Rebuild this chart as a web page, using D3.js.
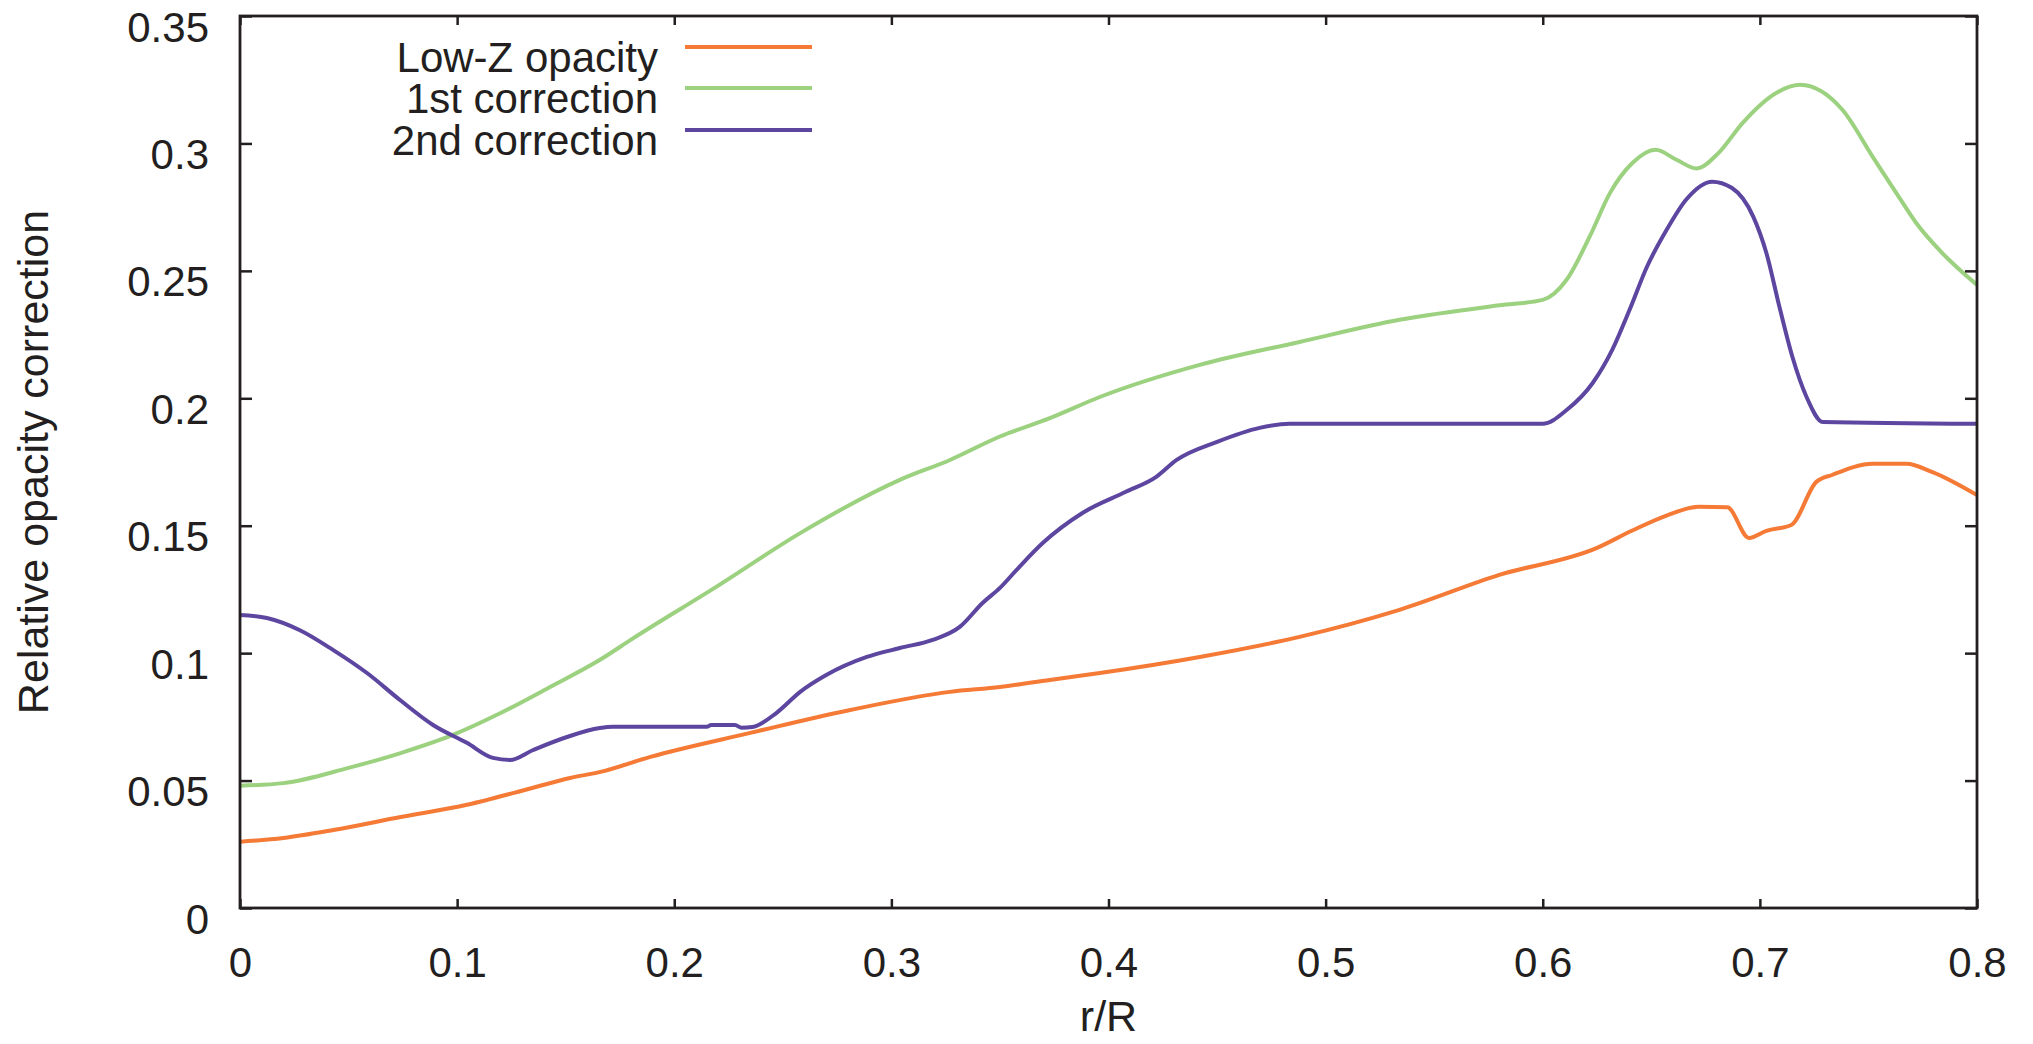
<!DOCTYPE html>
<html>
<head>
<meta charset="utf-8">
<script src="https://cdn.jsdelivr.net/npm/d3@7"></script>
<style>
  html, body { margin: 0; padding: 0; background: #fff; }
  svg { display: block; }
  text { font-family: "Liberation Sans", Arial, sans-serif; fill: #231f20; }
</style>
</head>
<body>
<svg id="chart" width="2033" height="1044"></svg>
<script>
// ---- data ----
const xTicks = [0, 0.1, 0.2, 0.3, 0.4, 0.5, 0.6, 0.7, 0.8];
const xTickLabels = ["0", "0.1", "0.2", "0.3", "0.4", "0.5", "0.6", "0.7", "0.8"];
const yTicks = [0, 0.05, 0.1, 0.15, 0.2, 0.25, 0.3, 0.35];
const yTickLabels = ["0", "0.05", "0.1", "0.15", "0.2", "0.25", "0.3", "0.35"];

const seriesNames = ["Low-Z opacity", "1st correction", "2nd correction"];
const seriesColors = ["#f47a36", "#9bd17f", "#5c46a0"];

const lowZ = [
  [0,0.026],[0.02,0.0275],[0.043,0.0306],[0.074,0.0357],[0.1045,0.0405],[0.135,0.0472],
  [0.152,0.051],[0.166,0.0534],[0.189,0.0593],[0.235,0.0687],[0.281,0.0777],[0.327,0.0848],
  [0.35,0.0867],[0.373,0.0895],[0.396,0.0922],[0.442,0.0985],[0.488,0.1064],[0.534,0.117],
  [0.58,0.1307],[0.625,0.1413],[0.641,0.148],[0.657,0.154],[0.672,0.1574],[0.685,0.1572],
  [0.695,0.1452],[0.703,0.148],[0.7145,0.1503],[0.726,0.1672],[0.7335,0.170],[0.752,0.1743],
  [0.7675,0.1743],[0.7795,0.171],[0.80,0.162]
];

const firstCorr = [
  [0,0.048],[0.02,0.049],[0.05,0.055],[0.074,0.0608],[0.098,0.0679],[0.12,0.0765],
  [0.143,0.0868],[0.166,0.0975],[0.181,0.1058],[0.2195,0.1261],[0.2578,0.147],[0.3039,0.168],
  [0.327,0.1758],[0.35,0.185],[0.373,0.1922],[0.396,0.2005],[0.442,0.2131],[0.488,0.2221],
  [0.534,0.2308],[0.58,0.2365],[0.60,0.2386],[0.611,0.2465],[0.6216,0.2634],[0.631,0.2806],
  [0.6414,0.2924],[0.652,0.2975],[0.6616,0.2936],[0.6708,0.2902],[0.681,0.2963],[0.692,0.308],
  [0.7077,0.3199],[0.7185,0.323],[0.738,0.3132],[0.752,0.2947],[0.764,0.279],[0.772,0.2688],
  [0.784,0.257],[0.80,0.2445]
];

const secondCorr = [
  [0,0.115],[0.0124,0.1138],[0.0276,0.109],[0.0428,0.1013],[0.0585,0.0922],[0.0737,0.0816],
  [0.0889,0.0718],[0.1045,0.0648],[0.1165,0.0589],[0.1243,0.0581],[0.135,0.062],[0.1506,0.0671],
  [0.1657,0.0706],[0.1717,0.0711],[0.215,0.0711],[0.217,0.0718],[0.228,0.0718],[0.231,0.0707],
  [0.236,0.071],[0.247,0.0765],[0.258,0.0848],[0.270,0.0914],[0.2887,0.0985],[0.3039,0.102],
  [0.319,0.1052],[0.3315,0.1103],[0.342,0.1197],[0.35,0.1256],[0.3577,0.1327],[0.3697,0.1432],
  [0.388,0.155],[0.408,0.1633],[0.422,0.1692],[0.4314,0.1758],[0.45,0.1829],[0.4696,0.1884],
  [0.4834,0.190],[0.600,0.190],[0.611,0.1954],[0.623,0.206],[0.632,0.219],[0.640,0.2347],
  [0.648,0.2516],[0.657,0.266],[0.666,0.2779],[0.678,0.285],[0.687,0.2826],[0.697,0.2712],
  [0.703,0.257],[0.709,0.2359],[0.715,0.2162],[0.7215,0.2005],[0.729,0.1907],[0.80,0.190]
];

const seriesData = [lowZ, firstCorr, secondCorr];

// ---- layout ----
const plotLeft = 240, plotRight = 1977, plotTop = 16, plotBottom = 908;
const svg = d3.select("#chart");

const x = d3.scaleLinear().domain([0, 0.8]).range([plotLeft, plotRight]);
const y = d3.scaleLinear().domain([0, 0.35]).range([plotBottom, plotTop]);

const axisColor = "#231f20";

// curves
const line = d3.line().x(d => x(d[0])).y(d => y(d[1])).curve(d3.curveMonotoneX);
svg.append("g").selectAll("path")
  .data(seriesData)
  .join("path")
  .attr("d", d => line(d))
  .attr("fill", "none")
  .attr("stroke", (d, i) => seriesColors[i])
  .attr("stroke-width", 4)
  .attr("stroke-linejoin", "round")
  .attr("stroke-linecap", "butt");

// axes
function styleAxis(g) {
  g.select(".domain").remove();
  g.selectAll(".tick line").attr("stroke", axisColor).attr("stroke-width", 2.5);
}

const gx = svg.append("g").attr("transform", `translate(0,${plotBottom})`)
  .call(d3.axisBottom(x).tickValues(xTicks).tickFormat((d, i) => xTickLabels[i])
    .tickSizeInner(-9).tickSizeOuter(0));
styleAxis(gx);
gx.selectAll(".tick text").attr("y", 69).attr("dy", 0)
  .attr("font-size", 42).attr("fill", axisColor)
  .style("font-family", '"Liberation Sans", Arial, sans-serif');

const gxt = svg.append("g").attr("transform", `translate(0,${plotTop})`)
  .call(d3.axisTop(x).tickValues(xTicks).tickFormat("").tickSizeInner(-9).tickSizeOuter(0));
styleAxis(gxt);

const gy = svg.append("g").attr("transform", `translate(${plotLeft},0)`)
  .call(d3.axisLeft(y).tickValues(yTicks).tickFormat((d, i) => yTickLabels[i])
    .tickSizeInner(-12).tickSizeOuter(0));
styleAxis(gy);
gy.selectAll(".tick text").attr("x", -31).attr("dy", 0).attr("y", 25)
  .attr("text-anchor", "end")
  .attr("font-size", 42).attr("fill", axisColor)
  .style("font-family", '"Liberation Sans", Arial, sans-serif');

const gyr = svg.append("g").attr("transform", `translate(${plotRight},0)`)
  .call(d3.axisRight(y).tickValues(yTicks).tickFormat("").tickSizeInner(-12).tickSizeOuter(0));
styleAxis(gyr);

// frame
svg.append("rect")
  .attr("x", plotLeft).attr("y", plotTop)
  .attr("width", plotRight - plotLeft).attr("height", plotBottom - plotTop)
  .attr("fill", "none").attr("stroke", axisColor).attr("stroke-width", 2.8);

// axis titles
svg.append("text")
  .attr("x", (plotLeft + plotRight) / 2).attr("y", 1031)
  .attr("text-anchor", "middle").attr("font-size", 43)
  .text("r/R");

svg.append("text")
  .attr("transform", `translate(48,${(plotTop + plotBottom) / 2}) rotate(-90)`)
  .attr("text-anchor", "middle").attr("font-size", 43)
  .text("Relative opacity correction");

// legend
const legendRows = [47, 88, 130];
const legendBaseline = [72, 113, 155];
const lg = svg.append("g");
seriesNames.forEach((name, i) => {
  lg.append("text")
    .attr("x", 658).attr("y", legendBaseline[i])
    .attr("text-anchor", "end").attr("font-size", 42)
    .text(name);
  lg.append("line")
    .attr("x1", 685).attr("x2", 812)
    .attr("y1", legendRows[i]).attr("y2", legendRows[i])
    .attr("stroke", seriesColors[i]).attr("stroke-width", 4);
});
</script>
</body>
</html>
